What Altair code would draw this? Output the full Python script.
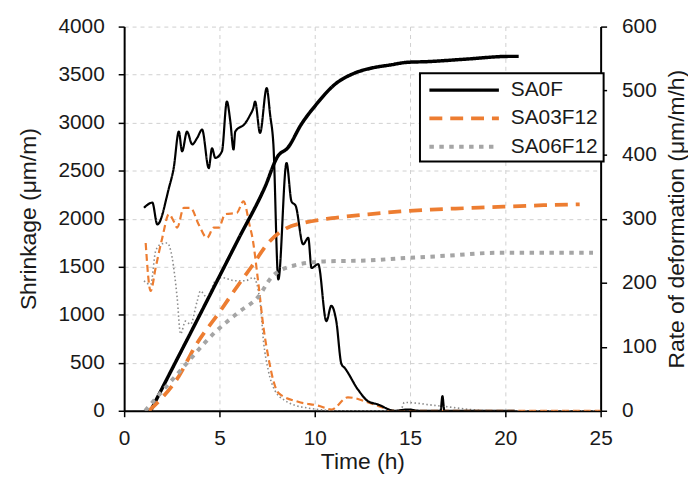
import altair as alt
import pandas as pd

FONT = "Liberation Sans"
TXT = "#1a1a1a"

names = ["SA0F", "SA03F12", "SA06F12"]
colors = ["#000000", "#ED7D31", "#A5A5A5"]
thin_colors = ["#000000", "#ED7D31", "#8C8C8C"]

# ---- Shrinkage (left axis, µm/m) ----
sa0f_t = [1.39, 2.5, 4.0, 5.0, 6.0, 7.38, 8.07, 8.59, 9.29, 10.07, 11.03, 12.07, 12.93, 13.97, 14.84,
          15.89, 17.85, 20.25, 20.7]
sa0f_s = [0, 430, 1010, 1400, 1790, 2326, 2653, 2739, 2981, 3187, 3394, 3514, 3566, 3601, 3628,
          3635, 3660, 3690, 3690]

sa03_t = [1.3, 2.87, 3.74, 5.1, 5.83, 6.7, 7.57, 8.5, 9.5, 10.9, 12.8, 14.5, 16.1, 18.0, 19.9, 22.0, 23.9]
sa03_s = [0, 360, 675, 1055, 1265, 1505, 1750, 1900, 1960, 2005, 2045, 2075, 2095, 2110, 2125, 2140, 2150]

sa06_t = [1.1, 2.87, 4.78, 6.0, 7.05, 7.73, 8.6, 10.5, 12.8, 14.35, 17.0, 19.6, 22.0, 24.6]
sa06_s = [0, 400, 820, 1025, 1190, 1390, 1495, 1555, 1565, 1585, 1615, 1645, 1645, 1645]

# ---- Rate of deformation (right axis, µm/m/h) ----
r0_t = [1.04, 1.48, 1.74, 2.35, 2.6, 2.87, 3.04, 3.3, 3.57, 3.83, 4.09, 4.44, 4.61, 4.78, 5.13, 5.39,
        5.57, 5.74, 5.83, 6.35, 6.61, 6.78, 6.87, 7.13, 7.48, 7.66, 7.83, 8.09, 8.52, 8.78, 9.0, 9.39,
        9.66, 9.83, 10.18, 10.61, 10.87, 11.13, 11.4, 11.57, 12.27, 12.79, 13.3, 14.2, 14.9, 15.5,
        16.6, 16.7, 16.8, 20.5]
r0_v = [317, 325, 291, 348, 379, 436, 405, 436, 416, 426, 439, 379, 410, 395, 405, 483,
        452, 408, 436, 449, 462, 473, 483, 434, 504, 462, 416, 205, 387, 327, 320, 260,
        270, 223, 229, 140, 164, 140, 73, 67, 33, 15, 10, 0, 2, 0,
        0, 23, 0, 0]

r03_t = [1.13, 1.39, 1.65, 2.0, 2.35, 2.6, 2.78, 3.13, 3.48, 3.91, 4.35, 4.7, 4.96, 5.3, 5.91, 6.26,
         6.61, 6.7, 7.05, 7.31, 7.57, 7.83, 8.09, 9.13, 10.18, 10.87, 11.74, 13.1, 14.2, 25.0]
r03_v = [262, 187, 223, 270, 307, 296, 286, 317, 317, 291, 270, 286, 286, 307, 309, 327,
         286, 275, 197, 130, 83, 47, 28, 14, 8, 2, 21, 10, 0, 0]

r06_t = [1.04, 1.39, 1.65, 1.91, 2.26, 2.52, 2.78, 2.96, 3.22, 3.48, 3.83, 4.0, 4.35, 4.78, 5.13, 5.83,
         6.35, 6.78, 7.13, 7.31, 7.57, 7.92, 8.44, 9.48, 11.4, 14.5, 14.7, 16.4, 19.3, 25.0]
r06_v = [203, 197, 249, 260, 262, 239, 177, 120, 140, 135, 171, 187, 177, 203, 208, 203,
         203, 208, 171, 109, 62, 31, 16, 5, 0, 0, 13, 8, 0, 0]

x_ticks = [0, 5, 10, 15, 20, 25]
left_ticks = list(range(0, 4001, 500))
right_ticks = list(range(0, 601, 100))

shrink = pd.DataFrame({
    "t": sa0f_t + sa03_t + sa06_t,
    "v": sa0f_s + sa03_s + sa06_s,
    "s": [names[0]] * len(sa0f_t) + [names[1]] * len(sa03_t) + [names[2]] * len(sa06_t),
})

x_enc = alt.X(
    "t:Q",
    scale=alt.Scale(domain=[0, 25], nice=False),
    axis=alt.Axis(values=x_ticks, title="Time (h)", grid=True, gridDash=[4, 4],
                  gridColor="#D0D0D0", labelPadding=11, titlePadding=2, labelFlush=False,
                  format="d"),
)

right_axis = alt.Axis(orient="right", values=right_ticks, title="Rate of deformation (μm/m/h)",
                      grid=False, titleAngle=270, titleBaseline="top", labelPadding=15,
                      titlePadding=9, labelFlush=False, format="d")


def rate_layer(t, r, color, dash, width):
    df = pd.DataFrame({"t": t, "r": r})
    return alt.Chart(df).mark_line(
        color=color, strokeDash=dash, strokeWidth=width, interpolate="monotone",
        strokeCap="butt", clip=True,
    ).encode(
        x=x_enc,
        y=alt.Y("r:Q", scale=alt.Scale(domain=[0, 600], nice=False), axis=right_axis),
    )


rates = alt.layer(
    rate_layer(r06_t, r06_v, thin_colors[2], [1.5, 2.5], 1.6),
    rate_layer(r03_t, r03_v, thin_colors[1], [7, 4], 2.2),
    rate_layer(r0_t, r0_v, thin_colors[0], [1, 0], 2.2),
)

leg = alt.Legend(title=None)

shr = alt.Chart(shrink).mark_line(interpolate="monotone", strokeCap="butt", clip=True).encode(
    x=x_enc,
    y=alt.Y("v:Q", scale=alt.Scale(domain=[0, 4000], nice=False),
            axis=alt.Axis(orient="left", values=left_ticks, title="Shrinkage (μm/m)",
                          grid=True, gridDash=[4, 4], gridColor="#D0D0D0",
                          labelPadding=14, titlePadding=18, labelFlush=False, format="d")),
    color=alt.Color("s:N", scale=alt.Scale(domain=names, range=colors), legend=leg),
    strokeDash=alt.StrokeDash("s:N", scale=alt.Scale(domain=names,
                                                    range=[[1, 0], [13, 8], [4.5, 5.5]]),
                              legend=leg),
    strokeWidth=alt.StrokeWidth("s:N", scale=alt.Scale(domain=names, range=[3.5, 4, 5]),
                                legend=leg),
)

chart = alt.layer(rates, shr).resolve_scale(y="independent").properties(
    width=480, height=387,
    autosize=alt.AutoSizeParams(type="none"),
    padding={"left": 117, "top": 17, "right": 88, "bottom": 66},
).configure_view(stroke=None).configure_axis(
    labelFont=FONT, titleFont=FONT, labelFontSize=21, titleFontSize=23,
    titleFontWeight="normal", labelColor=TXT, titleColor=TXT,
    domainColor="#000000", domainWidth=2, tickColor="#000000", tickWidth=1.5, tickSize=6,
).configure_legend(
    orient="none", legendX=298, legendY=47, strokeColor="#000000", strokeWidth=2,
    fillColor="white", padding=5, labelFont=FONT, labelFontSize=21, labelColor=TXT,
    symbolType="M-3.5,0H3.5", symbolSize=400, symbolStrokeWidth=4, rowPadding=6.5,
    symbolOffset=27.5, labelOffset=35,
)

chart.save("out.html", embed_options={"renderer": "svg", "actions": False})
